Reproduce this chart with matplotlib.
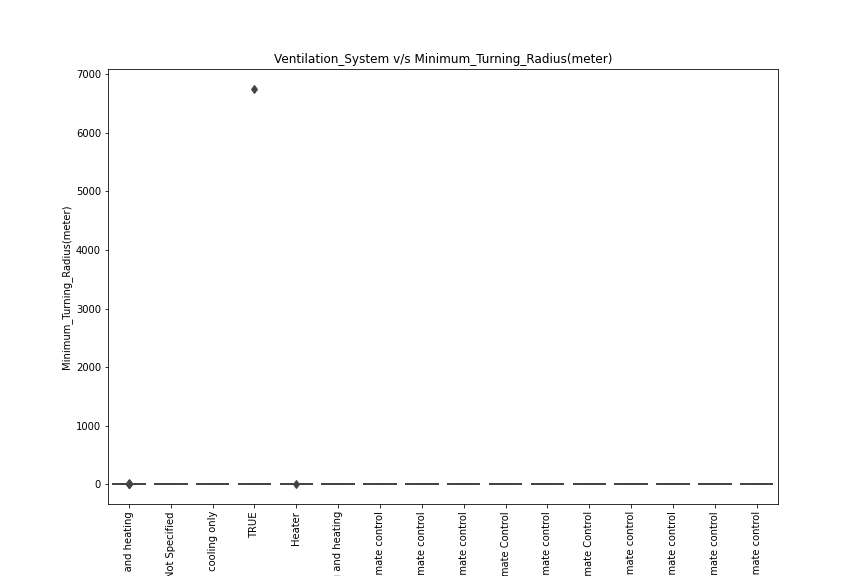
import matplotlib
matplotlib.use("Agg")
import matplotlib.pyplot as plt
import pandas as pd
import seaborn as sns

# Ventilation system categories, in the order they appear on the x axis
categories = [
    "Manual Air conditioning and heating",
    "Not Specified",
    "Air conditioning, cooling only",
    "TRUE",
    "Heater",
    "Automatic Air conditioning and heating",
    "Automatic climate control",
    "Dual zone climate control",
    "3 zone climate control",
    "Automatic Climate Control",
    "4 zone climate control",
    "Dual Zone Climate Control",
    "Manual climate control",
    "2 zone climate control",
    "Multi-zone climate control",
    "Dual-zone climate control",
]

# Minimum turning radius samples (meter) per category
radius_values = [
    [5.2, 5.3, 5.4, 5.5, 5.6, 5.1, 5.4, 0.0, 0.5, 10.0, 12.0, 15.0],
    [5.0, 5.3, 5.5, 5.6, 5.8],
    [4.9, 5.2, 5.4, 5.6],
    [5.1, 5.3, 5.5, 5.7, 6750.0],
    [4.8, 5.0, 5.1, 5.3, 5.5, 0.0],
    [5.2, 5.4, 5.6, 5.8],
    [5.3, 5.5, 5.7, 5.9],
    [5.4, 5.6, 5.8, 6.0],
    [5.5, 5.7, 5.9],
    [5.3, 5.5, 5.8],
    [5.6, 5.8, 6.0],
    [5.4, 5.7, 5.9],
    [5.2, 5.4, 5.6],
    [5.5, 5.7, 5.9],
    [5.6, 5.9, 6.1],
    [5.3, 5.6, 5.8],
]

rows = [(cat, v) for cat, vals in zip(categories, radius_values) for v in vals]
df = pd.DataFrame(rows, columns=["Ventilation_System", "Minimum_Turning_Radius(meter)"])

fig, ax = plt.subplots(figsize=(12, 8), dpi=72)
fig.subplots_adjust(left=0.125, right=0.9, bottom=0.125, top=0.88)
sns.boxplot(
    data=df,
    x="Ventilation_System",
    y="Minimum_Turning_Radius(meter)",
    order=categories,
    color="#3274a1",
    linecolor="#444444",
    linewidth=1.8,
    width=0.8,
    flierprops=dict(marker="d", markerfacecolor="#444444",
                    markeredgecolor="#444444", markersize=6),
    ax=ax,
)
ax.set_title("Ventilation_System v/s Minimum_Turning_Radius(meter)")
ax.tick_params(axis="x", rotation=90)
fig.savefig("out.png", dpi=72)
